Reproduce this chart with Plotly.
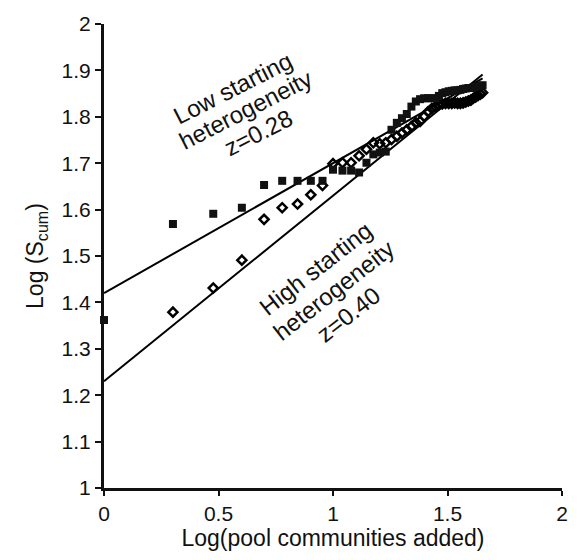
import numpy as np
import plotly.graph_objects as go

# number of pool communities added (1..45)
communities = list(range(1, 46))

# Log(S_cum), low starting heterogeneity (filled squares)
low_values = [1.362, 1.569, 1.591, 1.604, 1.653, 1.662, 1.662, 1.662, 1.662, 1.686,
              1.684, 1.684, 1.680, 1.701, 1.719, 1.723, 1.725, 1.772, 1.787, 1.797,
              1.806, 1.822, 1.833, 1.838, 1.840, 1.840, 1.840, 1.840, 1.845, 1.851,
              1.853, 1.855, 1.856, 1.857, 1.857, 1.858, 1.860, 1.861, 1.862, 1.862,
              1.863, 1.865, 1.866, 1.867, 1.868]

# Log(S_cum), high starting heterogeneity (open diamonds)
high_values = [None, 1.379, 1.431, 1.491, 1.579, 1.604, 1.612, 1.632, 1.652, 1.699,
               1.701, 1.701, 1.716, 1.730, 1.744, 1.742, 1.744, 1.751, 1.758, 1.765,
               1.772, 1.779, 1.787, 1.790, 1.801, 1.811, 1.818, 1.822, 1.826, 1.828,
               1.829, 1.829, 1.829, 1.830, 1.829, 1.829, 1.830, 1.832, 1.834, 1.836,
               1.840, 1.843, 1.846, 1.849, 1.852]

# fitted regression lines: intercept, slope (z)
low_fit = (1.42, 0.28)
high_fit = (1.23, 0.40)

x_ticks = [0, 0.5, 1, 1.5, 2]
y_ticks = [1, 1.1, 1.2, 1.3, 1.4, 1.5, 1.6, 1.7, 1.8, 1.9, 2]

low_label = ["Low starting", "heterogeneity", "z=0.28"]
high_label = ["High starting", "heterogeneity", "z=0.40"]

x = np.log10(communities)
x_line = np.array([0.0, x.max()])

FONT = "Liberation Sans, Arial, sans-serif"

fig = go.Figure()
fig.add_trace(go.Scatter(x=x_line, y=low_fit[0] + low_fit[1] * x_line, mode="lines",
                         line=dict(color="black", width=2), showlegend=False))
fig.add_trace(go.Scatter(x=x_line, y=high_fit[0] + high_fit[1] * x_line, mode="lines",
                         line=dict(color="black", width=2), showlegend=False))
fig.add_trace(go.Scatter(x=x, y=high_values, mode="markers", cliponaxis=False,
                         marker=dict(symbol="diamond-open", size=7, color="black",
                                     line=dict(width=2.5, color="black")),
                         showlegend=False))
fig.add_trace(go.Scatter(x=x, y=low_values, mode="markers", cliponaxis=False,
                         marker=dict(symbol="square", size=8, color="#111"),
                         showlegend=False))

low_pos = [(0.559, 1.862), (0.620, 1.815), (0.676, 1.766)]
high_pos = [(0.924, 1.474), (1.002, 1.426), (1.067, 1.374)]
for txt, (ax, ay) in zip(low_label, low_pos):
    fig.add_annotation(x=ax, y=ay, xref="x", yref="y", showarrow=False, text=txt,
                       textangle=-27, font=dict(family=FONT, size=24, color="#111"))
for txt, (ax, ay) in zip(high_label, high_pos):
    fig.add_annotation(x=ax, y=ay, xref="x", yref="y", showarrow=False, text=txt,
                       textangle=-38, font=dict(family=FONT, size=24, color="#111"))

fig.update_layout(
    width=580, height=560,
    margin=dict(l=104, r=16, t=18, b=72),
    paper_bgcolor="white", plot_bgcolor="white",
    font=dict(family=FONT, size=21, color="#111"),
)
fig.update_xaxes(range=[0, 2], tickvals=x_ticks, ticktext=[f"{v:g}" for v in x_ticks],
                 showline=True, linewidth=3, linecolor="#111", showgrid=False, zeroline=False,
                 ticks="outside", ticklen=5, tickwidth=2, tickcolor="#111",
                 title=dict(text="Log(pool communities added)", font=dict(size=23), standoff=4))
fig.update_yaxes(range=[1, 2], tickvals=y_ticks, ticktext=[f"{v:g}" for v in y_ticks],
                 showline=True, linewidth=3, linecolor="#111", showgrid=False, zeroline=False,
                 ticks="outside", ticklen=6, tickwidth=2, tickcolor="#111",
                 title=dict(text="Log (S<sub>cum</sub>)", font=dict(size=23), standoff=12))

fig.write_html("out.html")
